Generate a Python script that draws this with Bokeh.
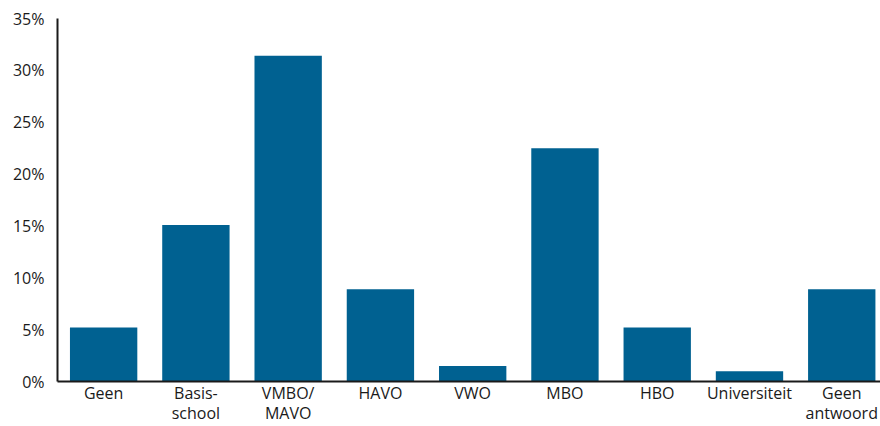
from bokeh.plotting import figure
from bokeh.models import Range1d, FixedTicker, PrintfTickFormatter, ColumnDataSource
from bokeh.embed import file_html
from bokeh.resources import INLINE

# Education level shares (%)
categories = ["Geen", "Basis-\nschool", "VMBO/\nMAVO", "HAVO", "VWO",
              "MBO", "HBO", "Universiteit", "Geen\nantwoord"]
shares = [5.2, 15.1, 31.4, 8.9, 1.5, 22.5, 5.2, 1.0, 8.9]
y_ticks = [0, 5, 10, 15, 20, 25, 30, 35]

positions = list(range(len(categories)))
source = ColumnDataSource(data=dict(x=positions, share=shares))

FONT = "Open Sans"
BAR_COLOR = "#006191"

p = figure(
    width=880, height=426,
    x_range=Range1d(-0.5, 8.42), y_range=Range1d(0, 35),
    output_backend="svg", toolbar_location=None,
    min_border_left=57, min_border_right=0, min_border_top=18, min_border_bottom=0,
)

p.vbar(x="x", top="share", width=0.73, source=source, color=BAR_COLOR, line_color=None)

p.outline_line_color = None
p.xgrid.grid_line_color = None
p.ygrid.grid_line_color = None
p.background_fill_color = "white"
p.border_fill_color = "white"

# x axis: category names under each bar
p.xaxis.ticker = FixedTicker(ticks=positions)
p.xaxis.major_label_overrides = {i: c for i, c in enumerate(categories)}
p.xaxis.major_tick_line_color = None
p.xaxis.minor_tick_line_color = None
p.xaxis.major_tick_out = 0
p.xaxis.major_tick_in = 0
p.xaxis.axis_line_width = 2
p.xaxis.axis_line_color = "#1a1a1a"
p.xaxis.major_label_text_font = FONT
p.xaxis.major_label_text_font_size = "16px"
p.xaxis.major_label_text_line_height = 0.92
p.xaxis.major_label_text_color = "#1a1a1a"
p.xaxis.major_label_standoff = 0

# y axis: percentages
p.yaxis.ticker = FixedTicker(ticks=y_ticks)
p.yaxis.formatter = PrintfTickFormatter(format="%d%%")
p.yaxis.major_tick_line_color = None
p.yaxis.minor_tick_line_color = None
p.yaxis.major_tick_out = 0
p.yaxis.major_tick_in = 0
p.yaxis.axis_line_width = 2
p.yaxis.axis_line_color = "#1a1a1a"
p.yaxis.major_label_text_font = FONT
p.yaxis.major_label_text_font_size = "16px"
p.yaxis.major_label_text_color = "#1a1a1a"
p.yaxis.major_label_standoff = 13

open("out.html", "w").write(file_html(p, INLINE))
